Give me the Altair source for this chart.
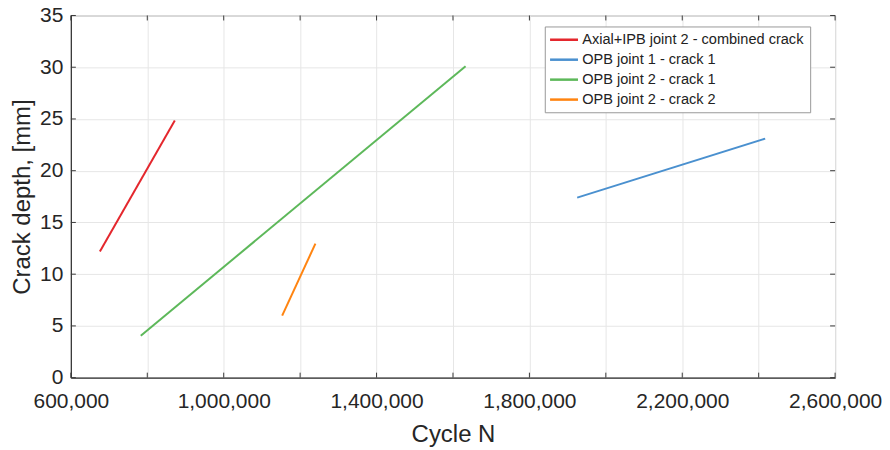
import altair as alt
import pandas as pd

series_names = [
    "Axial+IPB joint 2 - combined crack",
    "OPB joint 1 - crack 1",
    "OPB joint 2 - crack 1",
    "OPB joint 2 - crack 2",
]
series_colors = ["#E4272D", "#4A90CF", "#5DB85A", "#FF8410"]

red_x = [676000, 872000]
red_y = [12.2, 24.85]
blue_x = [1925000, 2417000]
blue_y = [17.4, 23.1]
green_x = [783000, 1633000]
green_y = [4.05, 30.1]
orange_x = [1153000, 1240000]
orange_y = [6.0, 12.95]

x_ticks = [600000, 800000, 1000000, 1200000, 1400000, 1600000, 1800000,
           2000000, 2200000, 2400000, 2600000]
y_ticks = [0, 5, 10, 15, 20, 25, 30, 35]

W, H = 766, 363

rows = []
for name, xs, ys in zip(series_names,
                        [red_x, blue_x, green_x, orange_x],
                        [red_y, blue_y, green_y, orange_y]):
    for i, (xv, yv) in enumerate(zip(xs, ys)):
        rows.append({"series": name, "N": xv, "depth": yv, "order": i})
df = pd.DataFrame(rows)

xscale = alt.Scale(domain=[600000, 2600000], nice=False, zero=False)
yscale = alt.Scale(domain=[0, 35], nice=False)

lines = alt.Chart(df).mark_line(strokeWidth=2).encode(
    x=alt.X("N:Q", scale=xscale, title="Cycle N",
            axis=alt.Axis(values=x_ticks,
                          labelExpr="(datum.value - 600000) % 400000 == 0 ? format(datum.value, ',') : ''")),
    y=alt.Y("depth:Q", scale=yscale, title="Crack depth, [mm]",
            axis=alt.Axis(values=y_ticks)),
    color=alt.Color("series:N",
                    scale=alt.Scale(domain=series_names, range=series_colors),
                    sort=series_names,
                    legend=alt.Legend(title=None)),
    order="order:Q",
)

xt = pd.DataFrame({"v": x_ticks})
yt = pd.DataFrame({"v": y_ticks})
tick_col = "#3a3a3a"

xb = alt.Chart(xt).mark_rule(color=tick_col, strokeWidth=1).encode(
    x=alt.X("v:Q", scale=xscale), y=alt.value(H), y2=alt.value(H - 5))
xtop = alt.Chart(xt).mark_rule(color=tick_col, strokeWidth=1).encode(
    x=alt.X("v:Q", scale=xscale), y=alt.value(0), y2=alt.value(5))
yl = alt.Chart(yt).mark_rule(color=tick_col, strokeWidth=1).encode(
    y=alt.Y("v:Q", scale=yscale), x=alt.value(0), x2=alt.value(5))
yr = alt.Chart(yt).mark_rule(color=tick_col, strokeWidth=1).encode(
    y=alt.Y("v:Q", scale=yscale), x=alt.value(W), x2=alt.value(W - 5))

chart = alt.layer(lines, xb, xtop, yl, yr).properties(
    width=W, height=H,
    autosize=alt.AutoSizeParams(type="none"),
    padding={"left": 63, "top": 7, "right": 47, "bottom": 70},
).configure_view(
    stroke="#9a9a9a", strokeWidth=1
).configure_axis(
    labelFont="Liberation Sans", titleFont="Liberation Sans",
    labelFontSize=21, titleFontSize=24, titleFontWeight="normal",
    labelColor="#262626", titleColor="#262626",
    domainColor="#333333", domainWidth=1.2,
    gridColor="#e6e6e6", gridWidth=1,
    ticks=False,
).configure_axisX(
    labelPadding=13, titlePadding=11, labelFlush=False,
).configure_axisY(
    labelPadding=8, titlePadding=5,
).configure_legend(
    orient="none", legendX=475, legendY=11,
    padding=6, fillColor="white", strokeColor="#999999",
    labelFont="Liberation Sans", labelFontSize=14.6, labelColor="#222222",
    symbolType="M-1.6,0H4", symbolSize=100, symbolStrokeWidth=2.5,
    labelOffset=17, rowPadding=5, labelLimit=400,
)

chart.save("out.html", embed_options={"renderer": "svg", "actions": False})
